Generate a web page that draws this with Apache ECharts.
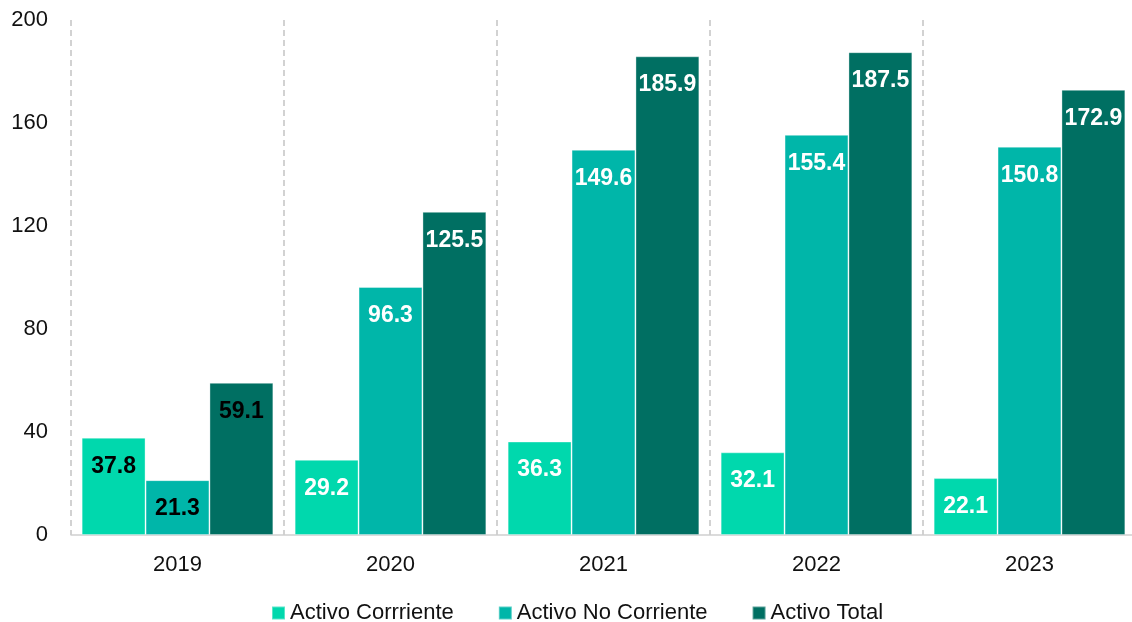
<!DOCTYPE html>
<html>
<head>
<meta charset="utf-8">
<script src="https://cdn.jsdelivr.net/npm/echarts@6/dist/echarts.min.js"></script>
<style>
  body { margin: 0; padding: 0; background: #fff; }
  #chart { width: 1132px; height: 622px; }
</style>
</head>
<body>
<div id="chart"></div>
<script>
const years = ['2019', '2020', '2021', '2022', '2023'];
const corriente = [37.8, 29.2, 36.3, 32.1, 22.1];
const noCorriente = [21.3, 96.3, 149.6, 155.4, 150.8];
const total = [59.1, 125.5, 185.9, 187.5, 172.9];
const seriesNames = ['Activo Corrriente', 'Activo No Corriente', 'Activo Total'];
const colors = ['#00d8ad', '#00b6a9', '#006f62'];

// 2019 labels are black in the original, the rest white
const mkSeries = (name, data, color) => ({
    name: name,
    type: 'bar',
    data: data.map((v, i) => ({
        value: v,
        label: { color: i === 0 ? '#000' : '#fff' }
    })),
    barGap: '0%',
    barCategoryGap: '10%',
    itemStyle: { color: color, borderColor: 'rgba(255,255,255,0.35)', borderWidth: 1 },
    label: {
        show: true,
        position: 'insideTop',
        distance: 17,
        fontFamily: 'Liberation Sans',
        fontWeight: 'bold',
        fontSize: 23,
        formatter: p => p.value.toFixed(1)
    }
});

const chart = echarts.init(document.getElementById('chart'));
chart.setOption({
    animation: false,
    textStyle: { fontFamily: 'Liberation Sans' },
    grid: { left: 71, top: 20, bottom: 87, width: 1065, outerBoundsMode: 'none' },
    legend: {
        top: 597,
        left: 266,
        icon: 'rect',
        itemWidth: 13,
        itemHeight: 13,
        itemGap: 44,
        textStyle: { fontSize: 22, color: '#111' },
        data: seriesNames
    },
    xAxis: {
        type: 'category',
        data: years,
        axisLine: { lineStyle: { color: '#d0d0d0', width: 1.5 } },
        axisTick: { show: false },
        axisLabel: { fontSize: 22, color: '#111', margin: 19 },
        splitLine: { show: true, lineStyle: { color: '#c4c4c4', type: [6, 4], width: 1.5 } }
    },
    yAxis: {
        type: 'value',
        min: 0,
        max: 200,
        interval: 40,
        axisLine: { show: false },
        axisTick: { show: false },
        splitLine: { show: false },
        axisLabel: { fontSize: 22, color: '#111', margin: 23 }
    },
    series: [
        mkSeries(seriesNames[0], corriente, colors[0]),
        mkSeries(seriesNames[1], noCorriente, colors[1]),
        mkSeries(seriesNames[2], total, colors[2])
    ]
});
</script>
</body>
</html>
